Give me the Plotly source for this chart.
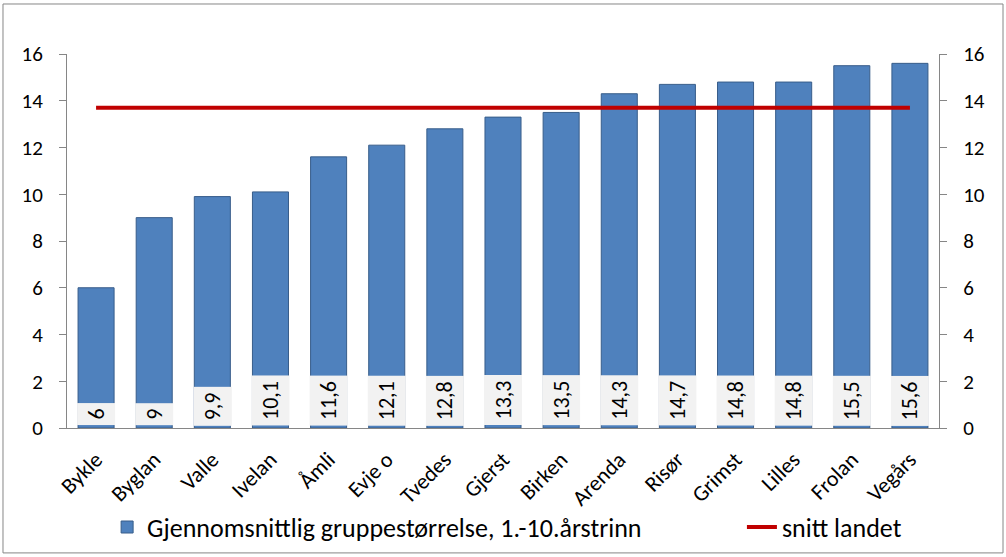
import plotly.graph_objects as go

categories = ["Bykle", "Byglan", "Valle", "Ivelan", "Åmli", "Evje o", "Tvedes", "Gjerst",
              "Birken", "Arenda", "Risør", "Grimst", "Lilles", "Frolan", "Vegårs"]
values = [6, 9, 9.9, 10.1, 11.6, 12.1, 12.8, 13.3, 13.5, 14.3, 14.7, 14.8, 14.8, 15.5, 15.6]
value_labels = ["6", "9", "9,9", "10,1", "11,6", "12,1", "12,8", "13,3", "13,5", "14,3",
                "14,7", "14,8", "14,8", "15,5", "15,6"]
national_avg = 13.7
y_ticks = [0, 2, 4, 6, 8, 10, 12, 14, 16]

FONT = "Carlito, Lato, sans-serif"
fig = go.Figure()
fig.add_trace(go.Bar(
    x=categories, y=values, name="Gjennomsnittlig gruppestørrelse, 1.-10.årstrinn",
    marker=dict(color="#4F81BD", line=dict(color="#385D8A", width=1)),
    width=0.62, legend="legend",
))
fig.add_trace(go.Scatter(
    x=categories, y=[national_avg] * len(categories), name="snitt landet",
    mode="lines", line=dict(color="#C00000", width=4), legend="legend2",
))
fig.add_trace(go.Scatter(x=[categories[0]], y=[0], yaxis="y2", showlegend=False,
                         mode="markers", marker=dict(opacity=0), hoverinfo="skip"))

for c, lab in zip(categories, value_labels):
    fig.add_annotation(x=c, y=0, text=lab, textangle=-90, showarrow=False,
                       yanchor="bottom", yshift=2, bgcolor="#F2F2F2", borderpad=5,
                       font=dict(family=FONT, size=22, color="#000000"))

axis_common = dict(range=[0, 16], tickvals=y_ticks, ticks="outside", ticklen=7,
                   tickcolor="#868686", showline=True, linecolor="#868686", linewidth=1,
                   showgrid=False, zeroline=False, ticklabelstandoff=12,
                   tickfont=dict(family=FONT, size=21, color="#000000"))
legend_common = dict(orientation="h", y=-0.265, xanchor="left", yanchor="middle",
                     bgcolor="rgba(0,0,0,0)",
                     font=dict(family=FONT, size=26, color="#000000"))
fig.update_layout(
    width=1006, height=557,
    margin=dict(l=67, r=67, t=54, b=129, autoexpand=False),
    paper_bgcolor="white", plot_bgcolor="white",
    xaxis=dict(tickangle=-45, showline=True, linecolor="#868686", ticks="",
               ticklabelstandoff=9,
               tickfont=dict(family=FONT, size=22, color="#000000"),
               range=[-0.5, 14.5]),
    yaxis=dict(**axis_common),
    yaxis2=dict(**axis_common, overlaying="y", side="right"),
    legend=dict(x=0.046, **legend_common),
    legend2=dict(x=0.774, **legend_common),
    showlegend=True,
)
fig.add_shape(type="rect", xref="paper", yref="paper", x0=-0.0734, x1=1.0734,
              y0=-0.334, y1=1.1337, line=dict(color="#868686", width=1))

fig.write_html("out.html", config={"displayModeBar": False},
               post_script="document.body.style.margin='0';")
